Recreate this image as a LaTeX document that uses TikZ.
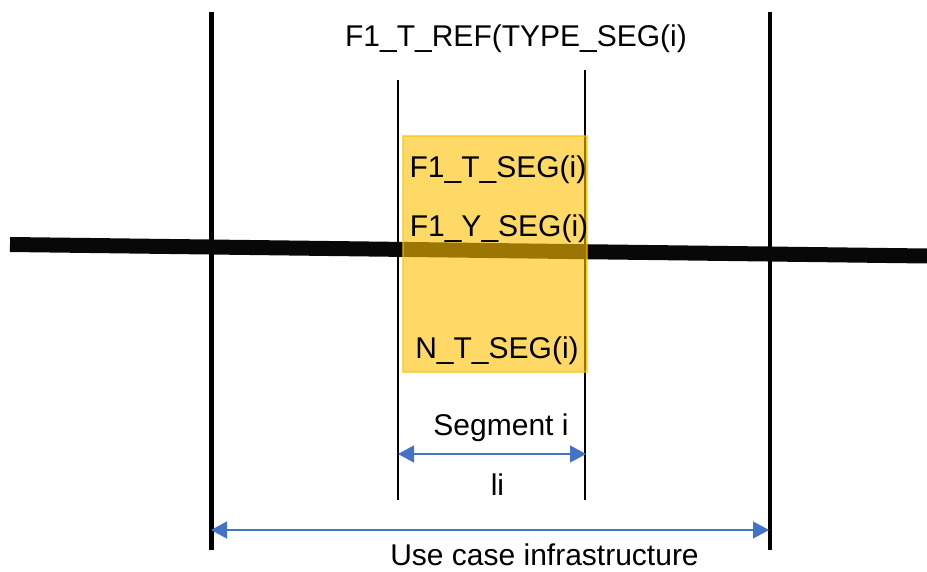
\documentclass[tikz,border=0pt]{standalone}
\usepackage{fontspec}
\setmainfont{Liberation Sans}
\usetikzlibrary{arrows.meta}
\definecolor{segyellow}{HTML}{FFC000}
\definecolor{dimblue}{HTML}{4472C4}
\tikzset{
  label30/.style={inner sep=0pt, anchor=base, font=\fontsize{30}{36}\selectfont},
  boundary/.style={line width=4.5pt, black},
  segline/.style={line width=1.3pt, black},
  track/.style={line width=15pt, black!97},
  segbox/.style={fill=segyellow, draw=segyellow, line width=1.5pt, opacity=0.6},
  dimarrow/.style={dimblue, line width=1.5pt,
    {Triangle[length=16pt,width=17pt]}-{Triangle[length=16pt,width=17pt]}}
}
\begin{document}
\begin{tikzpicture}[x=1pt,y=-1pt]
  \useasboundingbox (0,0) rectangle (927,572);

  % infrastructure limits
  \coordinate (Ltop) at (211.5,12);
  \coordinate (Lbot) at (211.5,550);
  \coordinate (Rtop) at (770,12);
  \coordinate (Rbot) at (770,550);
  \draw[boundary] (Ltop) -- (Lbot);
  \draw[boundary] (Rtop) -- (Rbot);

  % segment limits
  \coordinate (Stop) at (398,80);
  \coordinate (Sbot) at (398,500);
  \coordinate (Etop) at (585,70);
  \coordinate (Ebot) at (585,500);
  \draw[segline] (Stop) -- (Sbot);
  \draw[segline] (Etop) -- (Ebot);

  % track
  \coordinate (trackW) at (10,244.5);
  \coordinate (trackE) at (927,256);
  \draw[track] (trackW) -- (trackE);

  % segment box
  \draw[segbox] (403,136) rectangle (587,372);

  % labels
  \node[label30] (ref) at (516,47) {F1\_T\_REF(TYPE\_SEG(i)};
  \node[label30] (tseg) at (498,178) {F1\_T\_SEG(i)};
  \node[label30] (yseg) at (499,237) {F1\_Y\_SEG(i)};
  \node[label30] (nseg) at (497,358) {N\_T\_SEG(i)};
  \node[label30] (segi) at (501,435) {Segment i};
  \node[label30] (li) at (497.5,495) {li};
  \node[label30] (uci) at (544.5,565) {Use case infrastructure};

  % dimensions
  \coordinate (segA) at (398,454);
  \coordinate (segB) at (586,454);
  \coordinate (infA) at (211,530);
  \coordinate (infB) at (769,530);
  \draw[dimarrow] (segA) -- (segB);
  \draw[dimarrow] (infA) -- (infB);
\end{tikzpicture}
\end{document}
